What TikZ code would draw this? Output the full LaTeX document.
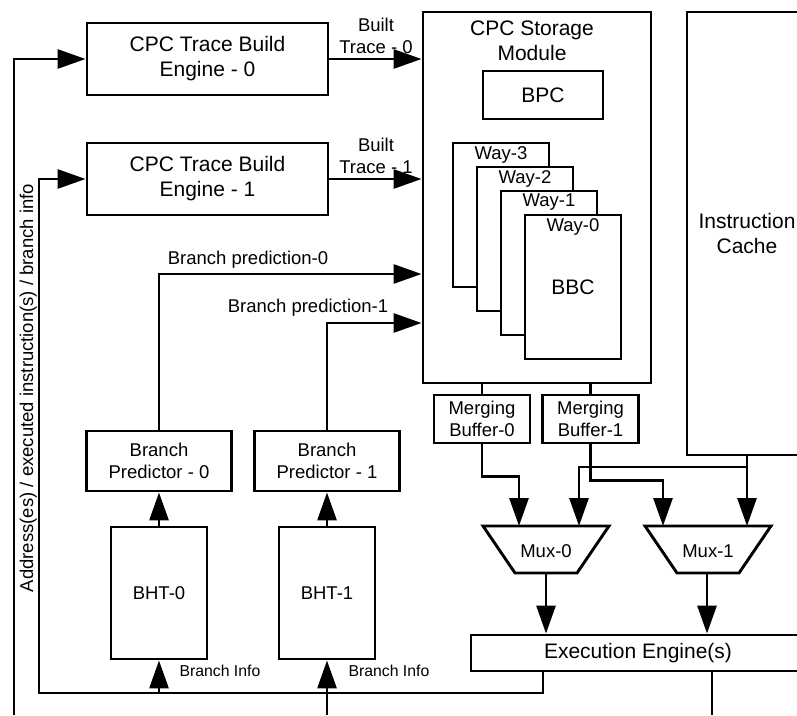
\documentclass[tikz,border=0pt]{standalone}
\usepackage{fontspec}
\setmainfont{Liberation Sans}
\usetikzlibrary{arrows.meta}
\begin{document}
\begin{tikzpicture}[x=1pt,y=-1pt,
  box/.style={draw, line width=2.9pt, inner sep=0pt, align=center},
  big/.style={font=\fontsize{21}{25}\selectfont},
  mid/.style={font=\fontsize{18.5}{22}\selectfont},
  small/.style={font=\fontsize{15.8}{19}\selectfont},
  wire/.style={line width=2.9pt},
  arr/.style={wire, -{Triangle[length=28pt,width=19pt]}},
  waybox/.style={box, fill=white, minimum width=96pt, minimum height=144pt},
  bufbox/.style={box, mid, minimum width=96pt, minimum height=48pt},
  predbox/.style={box, mid, minimum width=145pt, minimum height=60pt},
  bhtbox/.style={box, mid, minimum width=96pt, minimum height=132pt},
  engbox/.style={box, big, minimum width=241pt, minimum height=72pt}]

\useasboundingbox (0,0) rectangle (797,715);
\clip (0,0) rectangle (797,715);

% trace build engines
\node[engbox] (eng0) at (207.5,59) {CPC Trace Build\\Engine - 0};
\node[engbox] (eng1) at (207.5,179) {CPC Trace Build\\Engine - 1};

% storage module with BPC and the BBC ways
\node[box, minimum width=228pt, minimum height=371pt] (store) at (537,197.5) {};
\node[big, align=center] (storetitle) at (532,41) {CPC Storage\\Module};
\node[box, big, minimum width=120pt, minimum height=48pt] (bpc) at (543,95) {BPC};
\foreach \n/\k in {3/0,2/1,1/2,0/3}{
  \node[waybox] (way\n) at (501+24*\k,215+24*\k) {};
  \node[mid, yshift=-13pt] (waylab\n) at (way\n.north) {Way-\n};
}
\node[big] (bbc) at (way0) {BBC};

% instruction cache (runs off the right edge)
\node[box, big, minimum width=120pt, minimum height=443pt] (icache) at (747,233.5) {Instruction\\Cache};

% merging buffers
\node[bufbox] (mb0) at (482,419) {Merging\\Buffer-0};
\node[bufbox] (mb1) at (590.5,419) {Merging\\Buffer-1};

% multiplexers
\draw[wire] (483,526) -- (609,526) -- (577,573) -- (515,573) -- cycle;
\draw[wire] (645,526) -- (771,526) -- (739,573) -- (677,573) -- cycle;
\node[mid] (mux0) at (546,551) {Mux-0};
\node[mid] (mux1) at (708,551) {Mux-1};
\coordinate (m0in1) at (519,526);
\coordinate (m0in2) at (579,526);
\coordinate (m0out) at (546,573);
\coordinate (m1in1) at (663,526);
\coordinate (m1in2) at (747,526);
\coordinate (m1out) at (707,573);

% execution engines (runs off the right edge)
\node[box, big, minimum width=334pt, minimum height=36pt] (exec) at (638,653) {Execution Engine(s)};

% branch predictors and history tables
\node[predbox] (bp0) at (159,461) {Branch\\Predictor - 0};
\node[predbox] (bp1) at (327,461) {Branch\\Predictor - 1};
\node[bhtbox] (bht0) at (159,593) {BHT-0};
\node[bhtbox] (bht1) at (327,593) {BHT-1};

% built traces into storage
\draw[arr] (eng0.east) -- (eng0.east -| store.west);
\draw[arr] (eng1.east) -- (eng1.east -| store.west);
\node[mid, align=center] (bt0) at (376,36) {Built\\Trace - 0};
\node[mid, align=center] (bt1) at (376,156) {Built\\Trace - 1};

% branch predictions into storage
\coordinate (bp0turn) at (159,274);
\coordinate (bp1turn) at (327,323);
\draw[arr] (bp0.north) -- (bp0turn) -- (bp0turn -| store.west);
\draw[arr] (bp1.north) -- (bp1turn) -- (bp1turn -| store.west);
\node[mid] (bplab0) at (248,260) {Branch prediction-0};
\node[mid] (bplab1) at (308,308) {Branch prediction-1};

\draw[arr] (bht0.north) -- (bp0.south);
\draw[arr] (bht1.north) -- (bp1.south);

% storage to merging buffers
\draw[wire] (store.south -| mb0.north) -- (mb0.north);
\draw[wire] (store.south -| mb1.north) -- (mb1.north);

% merging buffers and cache to multiplexers
\coordinate (icsplit) at (747,467);
\draw[arr] (mb0.south) -- ++(0,32) -| (m0in1);
\draw[arr] (mb1.south) -- ++(0,36) -| (m1in1);
\draw[arr] (icache.south) -- (m1in2);
\draw[arr] (icsplit) -| (m0in2);

% multiplexers to execution
\draw[arr] (m0out) -- (m0out |- exec.north);
\draw[arr] (m1out) -- (m1out |- exec.north);

% feedback paths
\coordinate (fb) at (543,693);
\coordinate (fbL) at (39,693);
\coordinate (bot0) at (14,715);
\coordinate (bot1) at (327,715);
\coordinate (bot2) at (712,715);
\draw[arr] (exec.south -| fb) |- (fbL) |- (eng1.west);
\draw[arr] (bot0) |- (eng0.west);
\draw[arr] (bht0.south |- fbL) -- (bht0.south);
\draw[arr] (bot1) -- (bht1.south);
\draw[wire] (exec.south -| bot2) -- (bot2);

\node[small, anchor=west] (bi0) at (176,671) {Branch Info};
\node[small, anchor=west] (bi1) at (345,671) {Branch Info};
\node[mid, rotate=90, anchor=base] (addrlab) at (33,388) {Address(es) / executed instruction(s) / branch info};

\end{tikzpicture}
\end{document}
